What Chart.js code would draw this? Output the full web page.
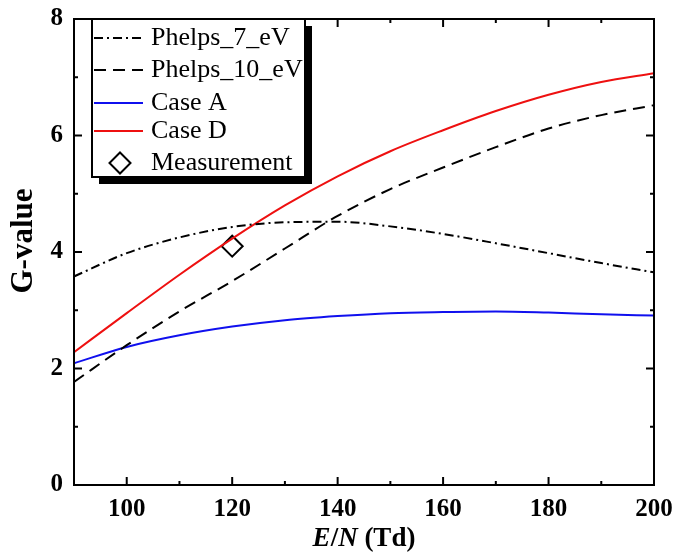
<!DOCTYPE html>
<html>
<head>
<meta charset="utf-8">
<script src="https://cdn.jsdelivr.net/npm/chart.js@4/dist/chart.umd.min.js"></script>
<style>
  html, body {margin: 0; padding: 0; background: #fff;}
  #wrap {width: 689px; height: 558px;}
</style>
</head>
<body>
<div id="wrap"><canvas id="chart" width="689" height="558"></canvas></div>
<script>
// E/N values (Td) and G-values
const energies = [90, 100, 110, 120, 130, 140, 150, 160, 170, 180, 190, 200]
const phelps7 = [3.58, 3.98, 4.25, 4.43, 4.51, 4.52, 4.44, 4.31, 4.15, 3.98, 3.81, 3.65]
const phelps10 = [1.77, 2.40, 2.98, 3.50, 4.06, 4.62, 5.08, 5.45, 5.80, 6.12, 6.35, 6.52]
const caseA = [2.09, 2.37, 2.57, 2.72, 2.83, 2.90, 2.95, 2.97, 2.98, 2.96, 2.93, 2.91]
const caseD = [2.28, 2.95, 3.61, 4.23, 4.80, 5.30, 5.73, 6.09, 6.42, 6.70, 6.92, 7.07]
const measureX = [120]
const measureY = [4.1]

const xTicks = [100, 120, 140, 160, 180, 200]
const xMinor = [110, 130, 150, 170, 190]
const yTicks = [0, 2, 4, 6, 8]
const yMinor = [1, 3, 5, 7]

const serif = '"Liberation Serif", "Times New Roman", serif'

const toPoints = ys => ys.map((y, i) => ({x: energies[i], y}))

/** Frame with inward ticks on all four sides, plus axis titles. */
const framePlugin = {
  id: 'frame',
  afterDatasetsDraw(chart) {
    const {ctx, chartArea: a, scales: {x, y}} = chart
    ctx.save()
    ctx.strokeStyle = '#000'
    ctx.lineWidth = 2
    ctx.strokeRect(a.left, a.top, a.right - a.left, a.bottom - a.top)

    const tick = (x1, y1, x2, y2) => {
      ctx.beginPath()
      ctx.moveTo(x1, y1)
      ctx.lineTo(x2, y2)
      ctx.stroke()
    }
    for (const v of xTicks.concat(xMinor)) {
      const len = xTicks.includes(v) ? 8 : 4
      const px = x.getPixelForValue(v)
      tick(px, a.bottom, px, a.bottom - len)
      tick(px, a.top, px, a.top + len)
    }
    for (const v of yTicks.concat(yMinor)) {
      const len = yTicks.includes(v) ? 8 : 4
      const py = y.getPixelForValue(v)
      tick(a.left, py, a.left + len, py)
      tick(a.right, py, a.right - len, py)
    }

    // x title: E/N (Td) with italic E and N
    ctx.fillStyle = '#000'
    ctx.textBaseline = 'middle'
    const parts = [
      ['italic bold 27px ' + serif, 'E'],
      ['bold 27px ' + serif, '/'],
      ['italic bold 27px ' + serif, 'N'],
      ['bold 27px ' + serif, ' (Td)'],
    ]
    let total = 0
    for (const [font, t] of parts) {
      ctx.font = font
      total += ctx.measureText(t).width
    }
    let cx = (a.left + a.right) / 2 - total / 2
    for (const [font, t] of parts) {
      ctx.font = font
      ctx.fillText(t, cx, 539)
      cx += ctx.measureText(t).width
    }

    // y title
    ctx.translate(24, 241)
    ctx.rotate(-Math.PI / 2)
    ctx.font = 'bold 31px ' + serif
    ctx.textAlign = 'center'
    ctx.fillText('G-value', 0, 0)
    ctx.restore()
  },
}

/** Boxed legend with a drop shadow in the top left corner. */
const legendPlugin = {
  id: 'boxLegend',
  afterDraw(chart) {
    const {ctx} = chart
    const box = {left: 92, top: 19, width: 213, height: 158}
    const rows = [38, 70, 103, 131, 163]
    ctx.save()
    ctx.fillStyle = '#000'
    ctx.fillRect(box.left + 7, box.top + 7, box.width, box.height)
    ctx.fillStyle = '#fff'
    ctx.fillRect(box.left, box.top, box.width, box.height)
    ctx.strokeStyle = '#000'
    ctx.lineWidth = 2
    ctx.strokeRect(box.left, box.top, box.width, box.height)

    chart.data.datasets.forEach((ds, i) => {
      const rowY = rows[i]
      ctx.strokeStyle = ds.borderColor
      ctx.lineWidth = ds.borderWidth
      if (ds.showLine === false) {
        const r = ds.pointRadius
        ctx.setLineDash([])
        ctx.beginPath()
        ctx.moveTo(120, rowY - r)
        ctx.lineTo(120 + r, rowY)
        ctx.lineTo(120, rowY + r)
        ctx.lineTo(120 - r, rowY)
        ctx.closePath()
        ctx.stroke()
      } else {
        ctx.setLineDash(ds.borderDash || [])
        ctx.beginPath()
        ctx.moveTo(94, rowY)
        ctx.lineTo(143, rowY)
        ctx.stroke()
      }
      ctx.setLineDash([])
      ctx.fillStyle = '#000'
      ctx.font = '26px ' + serif
      ctx.textBaseline = 'middle'
      ctx.fillText(ds.label, 151, rowY)
    })
    ctx.restore()
  },
}

const lineSet = (label, data, color, dash) => ({
  label,
  data: toPoints(data),
  borderColor: color,
  borderWidth: 2,
  borderDash: dash,
  pointRadius: 0,
  fill: false,
  cubicInterpolationMode: 'monotone',
})

const config = {
  type: 'line',
  data: {
    datasets: [
      lineSet('Phelps_7_eV', phelps7, '#000', [9, 4, 2, 4]),
      lineSet('Phelps_10_eV', phelps10, '#000', [12, 7]),
      lineSet('Case A', caseA, '#1010ee', []),
      lineSet('Case D', caseD, '#ee1010', []),
      {
        label: 'Measurement',
        data: measureX.map((v, i) => ({x: v, y: measureY[i]})),
        showLine: false,
        pointStyle: 'rectRot',
        pointRadius: 10.5,
        borderColor: '#000',
        borderWidth: 2,
        backgroundColor: 'rgba(255,255,255,0)',
      },
    ],
  },
  options: {
    responsive: false,
    animation: false,
    layout: {padding: {top: 19, right: 35, left: 0, bottom: 0}},
    plugins: {legend: {display: false}, tooltip: {enabled: false}},
    scales: {
      x: {
        type: 'linear',
        min: 90,
        max: 200,
        afterBuildTicks: s => { s.ticks = xTicks.map(value => ({value})) },
        afterFit: s => {
          s.height = 73
          s.paddingLeft = 0
          s.paddingRight = 0
        },
        grid: {display: false, drawTicks: false},
        border: {display: false},
        ticks: {
          color: '#000',
          padding: 10,
          font: {family: serif, size: 25, weight: 'bold'},
        },
      },
      y: {
        min: 0,
        max: 8,
        afterBuildTicks: s => { s.ticks = yTicks.map(value => ({value})) },
        afterFit: s => {
          s.width = 74
          s.paddingTop = 0
          s.paddingBottom = 0
        },
        grid: {display: false, drawTicks: false},
        border: {display: false},
        ticks: {
          color: '#000',
          padding: 11,
          font: {family: serif, size: 25, weight: 'bold'},
        },
      },
    },
  },
  plugins: [framePlugin, legendPlugin],
}

new Chart('chart', config)
</script>
</body>
</html>
